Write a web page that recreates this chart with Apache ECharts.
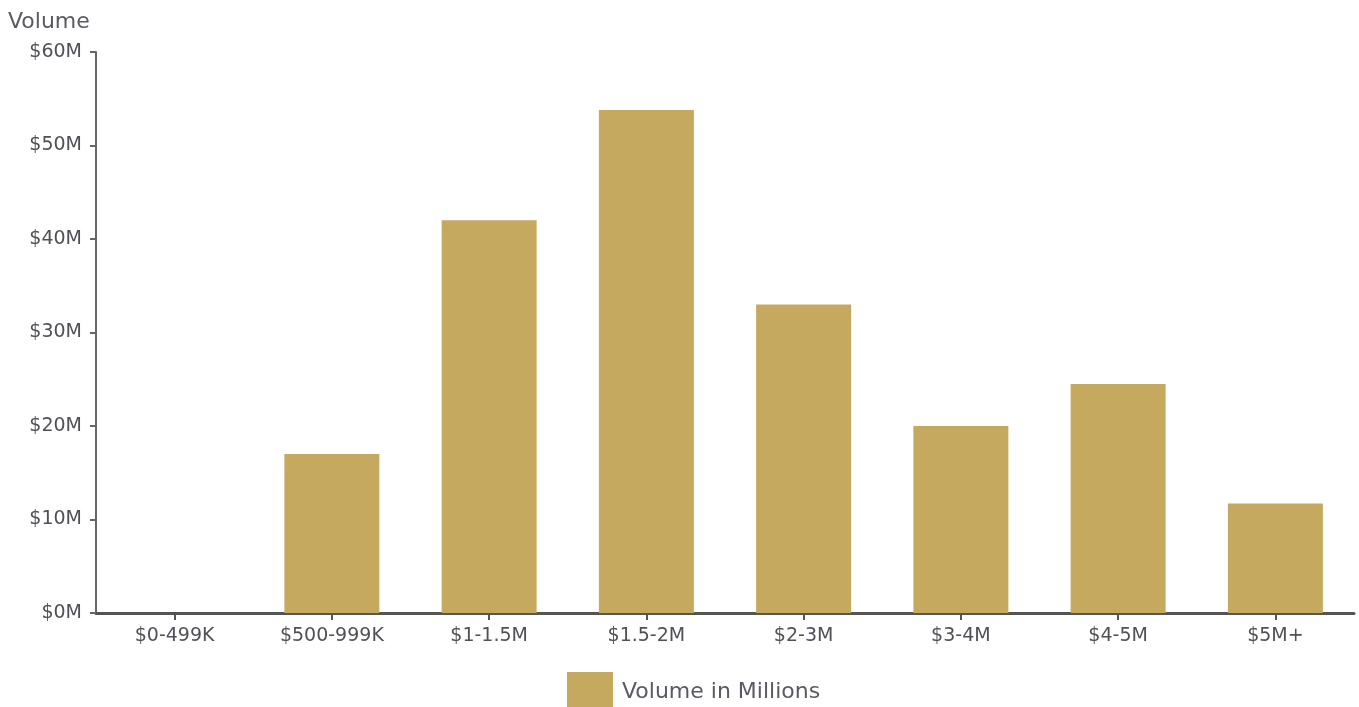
<!DOCTYPE html>
<html>
<head>
<meta charset="utf-8">
<script src="https://cdn.jsdelivr.net/npm/echarts@6/dist/echarts.min.js"></script>
<style>
html,body{margin:0;padding:0;background:#fff;}
#chart{width:1359px;height:707px;}
</style>
</head>
<body>
<div id="chart"></div>
<script>
const categories = ['$0-499K', '$500-999K', '$1-1.5M', '$1.5-2M', '$2-3M', '$3-4M', '$4-5M', '$5M+'];
const volumeValues = [0, 17.0, 42.0, 53.8, 33.0, 20.0, 24.5, 11.7];
const seriesName = 'Volume in Millions';
const yAxisTitle = 'Volume';

const FONT = '"DejaVu Sans", sans-serif';
const chart = echarts.init(document.getElementById('chart'));
chart.setOption({
  animation: false,
  backgroundColor: '#ffffff',
  textStyle: { fontFamily: FONT },
  title: {
    text: yAxisTitle,
    left: 3,
    top: 6,
    textStyle: { fontSize: 22, fontWeight: 'normal', color: '#5a5a64', fontFamily: FONT }
  },
  legend: {
    data: [seriesName],
    left: 562,
    top: 667,
    itemWidth: 46,
    itemHeight: 40,
    icon: 'rect',
    textStyle: { fontSize: 22, color: '#5a5a64', padding: [2, 0, 0, 4], fontFamily: FONT }
  },
  grid: { left: 96, right: 5, top: 52, bottom: 94, containLabel: false },
  xAxis: {
    type: 'category',
    data: categories,
    axisLine: { show: true, lineStyle: { color: '#555555', width: 3 } },
    axisTick: { show: true, alignWithLabel: true, length: 7, lineStyle: { color: '#555555', width: 2 } },
    axisLabel: { fontSize: 19, color: '#505058', margin: 14, interval: 0, fontFamily: FONT },
    splitLine: { show: false }
  },
  yAxis: {
    type: 'value',
    min: 0,
    max: 60,
    interval: 10,
    axisLine: { show: true, lineStyle: { color: '#666666', width: 2 } },
    axisTick: { show: true, length: 6, lineStyle: { color: '#666666', width: 2 } },
    axisLabel: { fontSize: 19, color: '#505058', margin: 14, formatter: v => '$' + v + 'M', fontFamily: FONT },
    splitLine: { show: false }
  },
  series: [{
    name: seriesName,
    type: 'bar',
    data: volumeValues,
    barWidth: 95,
    itemStyle: { color: '#c5a95e' }
  }]
});
</script>
</body>
</html>
